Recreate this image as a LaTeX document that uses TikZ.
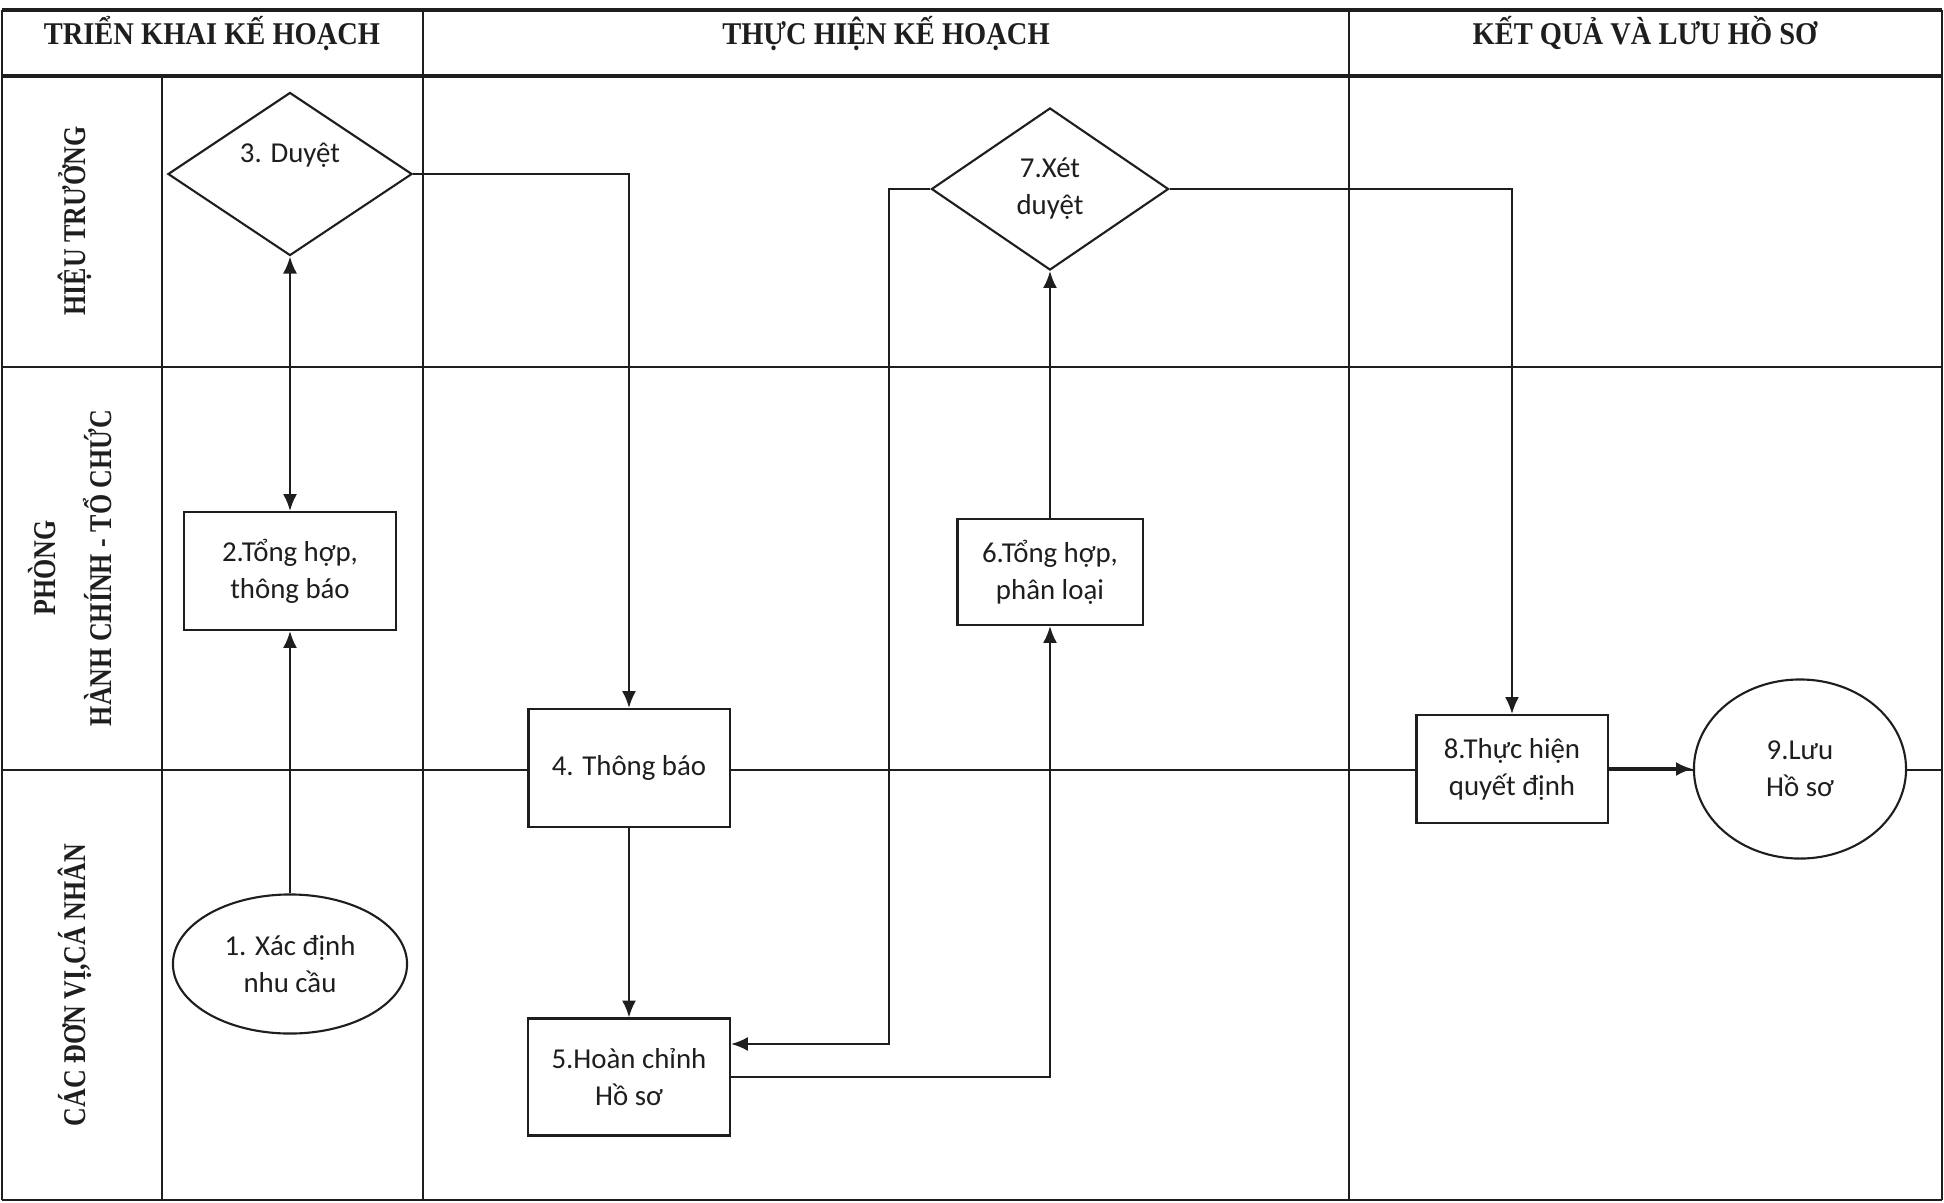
\documentclass[tikz,border=0pt]{standalone}
\usepackage{fontspec}
\setmainfont{Carlito}
\newfontfamily\hdfont{Liberation Serif}[FakeStretch=0.9]
\newfontfamily\lanefont{Liberation Serif}[FakeStretch=0.82]
\usepackage{xcolor}
\usepackage{tikz}
\usetikzlibrary{arrows.meta,shapes.geometric}
\definecolor{figline}{RGB}{30,30,30}
\tikzset{
  grd/.style  ={draw=figline, line width=0.5pt},
  grdb/.style ={draw=figline, line width=0.9pt},
  lab/.style  ={font=\fontsize{8.2}{10.5}\selectfont, text=figline, inner sep=1pt},
  boxn/.style ={lab, draw=figline, fill=white, line width=0.6pt, align=center},
  ovaln/.style={boxn, ellipse},
  decn/.style ={boxn, diamond},
  hdr/.style  ={font=\hdfont\bfseries\fontsize{9}{10}\selectfont, text=figline, anchor=base, inner sep=0pt},
  lane/.style ={font=\lanefont\bfseries\fontsize{9}{10}\selectfont, text=figline, rotate=90, align=center, inner sep=0pt},
  flw/.style  ={draw=figline, line width=0.6pt, -{Latex[length=4.8pt,width=4pt]}},
  flwb/.style ={flw, {Latex[length=4.8pt,width=4pt]}-{Latex[length=4.8pt,width=4pt]}},
}
\begin{document}
\begin{tikzpicture}[x=0.01cm,y=-0.01cm]
  \useasboundingbox (0,0) rectangle (1944,1202);
  \draw[grdb] (2,10) -- (1942,10);
  \draw[grdb] (2,76) -- (1942,76);
  \draw[grd] (2,367) -- (1942,367);
  \draw[grd] (2,770) -- (1942,770);
  \draw[grd] (2,1200) -- (1942,1200);
  \draw[grd] (2,10) -- (2,1200);
  \draw[grd] (162,76) -- (162,1200);
  \foreach \x in {423,1349,1942}
    \draw[grd] (\x,10) -- (\x,1200);
  \node[hdr] (h1) at (212,44) {TRIỂN KHAI KẾ HOẠCH};
  \node[hdr] (h2) at (886,44) {THỰC HIỆN KẾ HOẠCH};
  \node[hdr] (h3) at (1645,44) {KẾT QUẢ VÀ LƯU HỒ SƠ};
  \node[lane,anchor=base] (l1) at (86,221) {HIỆU TRƯỞNG};
  \node[lane] (l2) at (70,568) {PHÒNG\\[6pt]HÀNH CHÍNH - TỔ CHỨC};
  \node[lane,anchor=base] (l3) at (85,985) {CÁC ĐƠN VỊ,CÁ NHÂN};
  \node[decn,minimum width=2.44cm,minimum height=1.63cm,label={[lab,yshift=0.19cm]center:3. Duyệt}] (d3) at (290,174) {};
  \node[boxn,minimum width=2.11cm,minimum height=1.18cm] (b2) at (290,571) {2.Tổng hợp,\\thông báo};
  \node[ovaln,minimum width=2.34cm,minimum height=1.39cm] (e1) at (290,964) {1. Xác định\\nhu cầu};
  \node[boxn,minimum width=2.01cm,minimum height=1.18cm] (b4) at (629,768) {4. Thông báo};
  \node[boxn,minimum width=2.02cm,minimum height=1.17cm] (b5) at (629,1077) {5.Hoàn chỉnh\\Hồ sơ};
  \node[boxn,minimum width=1.85cm,minimum height=1.06cm] (b6) at (1050,572) {6.Tổng hợp,\\phân loại};
  \node[decn,minimum width=2.37cm,minimum height=1.62cm] (d7) at (1050,189) {7.Xét\\duyệt};
  \node[boxn,minimum width=1.91cm,minimum height=1.08cm] (b8) at (1512,769) {8.Thực hiện\\quyết định};
  \node[ovaln,minimum width=2.12cm,minimum height=1.79cm] (e9) at (1800,769) {9.Lưu\\Hồ sơ};
  \draw[flw] (e1) -- (b2);
  \draw[flwb] (b2) -- (d3);
  \draw[flw] (d3.east) -| (b4.north);
  \draw[flw] (b4) -- (b5);
  \draw[flw] (b5.east) -| (b6.south);
  \draw[flw] (b6) -- (d7);
  \draw[flw] (d7.west) -- ++(-41,0) |- ([yshift=0.33cm]b5.east);
  \draw[flw] (d7.east) -| (b8.north);
  \draw[flw,line width=0.9pt] (b8) -- (e9);
\end{tikzpicture}
\end{document}
